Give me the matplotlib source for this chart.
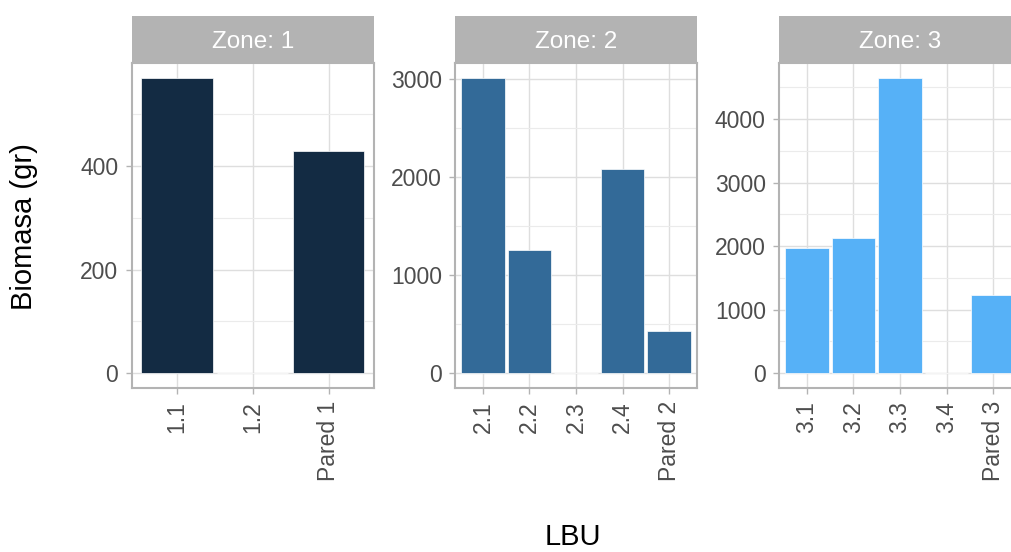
import matplotlib.pyplot as plt
from matplotlib.ticker import MultipleLocator
import numpy as np

plt.rcParams['font.family'] = ['Liberation Sans', 'DejaVu Sans']

# biomass per LBU, one list per zone
zones = [1, 2, 3]
lbu_z1 = ['1.1', '1.2', 'Pared 1']
bio_z1 = [570, 0, 428]
lbu_z2 = ['2.1', '2.2', '2.3', '2.4', 'Pared 2']
bio_z2 = [3010, 1252, 0, 2077, 429]
lbu_z3 = ['3.1', '3.2', '3.3', '3.4', 'Pared 3']
bio_z3 = [1975, 2121, 4650, 0, 1238]

zone_colors = ['#132B43', '#336A98', '#56B1F7']
major_step = [200, 1000, 1000]

W, H = 1011, 552
fig = plt.figure(figsize=(W / 100, H / 100), dpi=100)

# panel boxes in pixels: left, right, top, bottom
panel_px = [(131.5, 374), (455, 697), (779, 1021)]
top_px, bot_px, strip_top = 63, 388, 16

def to_fig(x0, x1, y_top, y_bot):
    return [x0 / W, 1 - y_bot / H, (x1 - x0) / W, (y_bot - y_top) / H]

grey70 = '#B3B3B3'
data = [(lbu_z1, bio_z1), (lbu_z2, bio_z2), (lbu_z3, bio_z3)]

for i, (labels, vals) in enumerate(data):
    x0, x1 = panel_px[i]
    ax = fig.add_axes(to_fig(x0, x1, top_px, bot_px))
    pos = np.arange(len(labels))
    ax.bar(pos, vals, width=0.94, color=zone_colors[i],
           edgecolor='white', linewidth=0.5, zorder=3)

    ymax = max(vals)
    ax.set_ylim(-0.05 * ymax, 1.05 * ymax)
    ax.set_xlim(-0.6, len(labels) - 0.4)
    ax.yaxis.set_major_locator(MultipleLocator(major_step[i]))
    ax.yaxis.set_minor_locator(MultipleLocator(major_step[i] / 2))
    ax.set_xticks(pos)
    ax.set_xticklabels(labels, rotation=90, va='top', ha='center')

    ax.grid(which='major', color='#DEDEDE', linewidth=1.0, zorder=0)
    ax.grid(which='minor', axis='y', color='#EBEBEB', linewidth=0.8, zorder=0)
    ax.set_axisbelow(True)

    for s in ax.spines.values():
        s.set_color(grey70)
        s.set_linewidth(1.5)
    ax.tick_params(which='major', length=4.5, width=1, color=grey70,
                   labelcolor='#4D4D4D', labelsize=16.5, pad=5)
    ax.tick_params(which='minor', length=0)

    # facet strip
    sax = fig.add_axes(to_fig(x0, x1, strip_top, top_px))
    sax.set_facecolor(grey70)
    sax.set_xticks([])
    sax.set_yticks([])
    for s in sax.spines.values():
        s.set_visible(False)
    sax.text(0.5, 0.45, f'Zone: {zones[i]}', color='white', fontsize=17.5,
             ha='center', va='center', transform=sax.transAxes)

fig.text(24 / W, 1 - 227 / H, 'Biomasa (gr)', rotation=90, fontsize=21,
         ha='center', va='center')
fig.text(573 / W, 1 - 537 / H, 'LBU', fontsize=21, ha='center', va='center')

fig.savefig('out.png', dpi=100, facecolor='white')
